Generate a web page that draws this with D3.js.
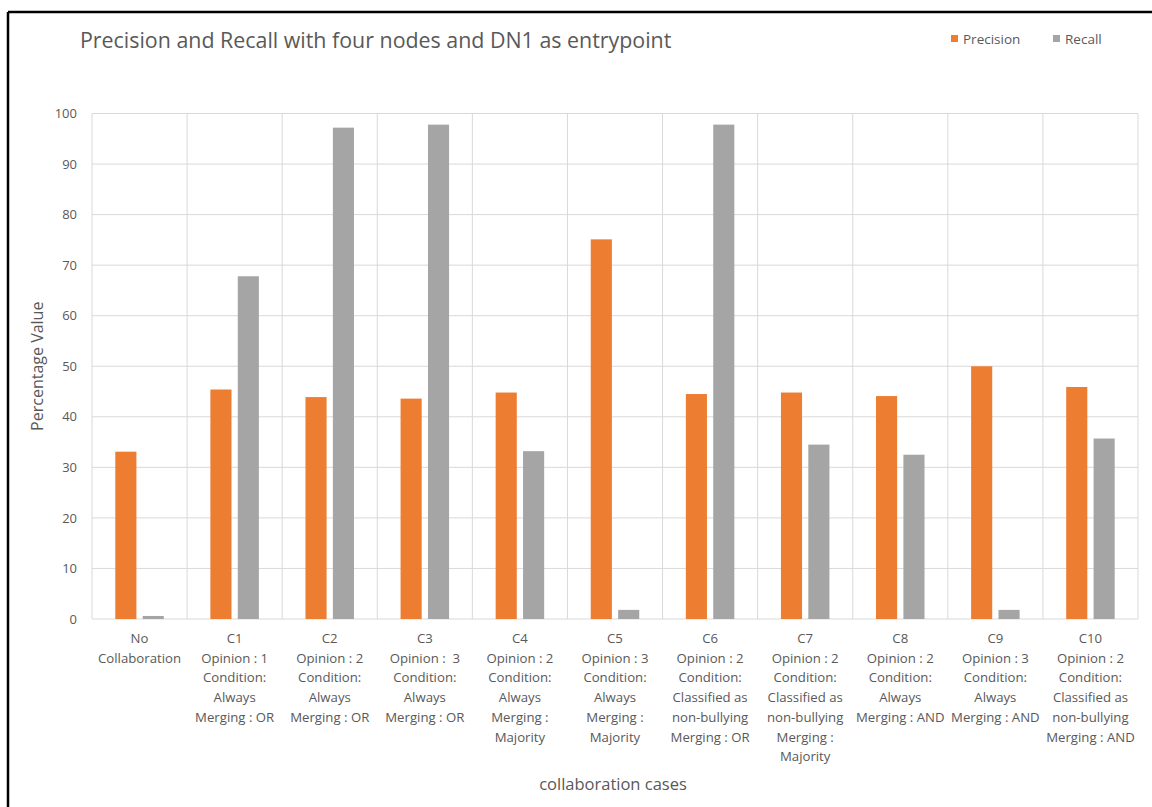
<!DOCTYPE html>
<html><head><meta charset="utf-8">
<script src="https://cdn.jsdelivr.net/npm/d3@7"></script>
<style>body{margin:0;background:#fff;} svg{display:block;} text{white-space:pre;}</style>
</head><body>
<svg id="chart" width="1152" height="807"></svg>
<script>
const categories = ["NoCollab","C1","C2","C3","C4","C5","C6","C7","C8","C9","C10"];
const categoryLabels = [
  ["No","Collaboration"],
  ["C1","Opinion : 1","Condition:","Always","Merging : OR"],
  ["C2","Opinion : 2","Condition:","Always","Merging : OR"],
  ["C3","Opinion :  3","Condition:","Always","Merging : OR"],
  ["C4","Opinion : 2","Condition:","Always","Merging :","Majority"],
  ["C5","Opinion : 3","Condition:","Always","Merging :","Majority"],
  ["C6","Opinion : 2","Condition:","Classified as","non-bullying","Merging : OR"],
  ["C7","Opinion : 2","Condition:","Classified as","non-bullying","Merging :","Majority"],
  ["C8","Opinion : 2","Condition:","Always","Merging : AND"],
  ["C9","Opinion : 3","Condition:","Always","Merging : AND"],
  ["C10","Opinion : 2","Condition:","Classified as","non-bullying","Merging : AND"]
];
const seriesNames = ["Precision","Recall"];
const precision = [33.1, 45.4, 43.9, 43.6, 44.8, 75.1, 44.5, 44.8, 44.1, 50.0, 45.9];
const recall    = [0.6, 67.8, 97.2, 97.8, 33.2, 1.8, 97.8, 34.5, 32.5, 1.8, 35.7];
const yTicks = [0,10,20,30,40,50,60,70,80,90,100];
const colors = ["#ED7D31","#A5A5A5"];

(function(){
const svg = d3.select("#chart");
const textColor = "#595959";
const font = "'Open Sans', 'Noto Sans', sans-serif";

// frame lines (left & top)
svg.append("line").attr("x1",8).attr("x2",8).attr("y1",12).attr("y2",807).attr("stroke","#000").attr("stroke-width",2.5);
svg.append("line").attr("x1",8).attr("x2",1152).attr("y1",12).attr("y2",12).attr("stroke","#000").attr("stroke-width",2.5);

const pL = 92, pR = 1138, pT = 113.5, pB = 619;
const x = d3.scaleBand().domain(categories).range([pL, pR]).padding(0);
const y = d3.scaleLinear().domain([0,100]).range([pB, pT]);

// horizontal gridlines
svg.append("g").selectAll("line").data(yTicks).join("line")
  .attr("x1", pL).attr("x2", pR)
  .attr("y1", d=>y(d)).attr("y2", d=>y(d))
  .attr("stroke","#D9D9D9").attr("stroke-width",1);
// vertical gridlines at category boundaries
const bounds = categories.map(c=>x(c)).concat([pR]);
svg.append("g").selectAll("line").data(bounds).join("line")
  .attr("x1", d=>d).attr("x2", d=>d)
  .attr("y1", pT).attr("y2", pB)
  .attr("stroke","#D9D9D9").attr("stroke-width",1);

// y axis labels
const yAxis = d3.axisLeft(y).tickValues(yTicks).tickSize(0).tickPadding(0);
const ga = svg.append("g").attr("transform",`translate(${pL-15},0)`).call(yAxis);
ga.select(".domain").remove();
ga.selectAll("text").attr("fill",textColor).attr("font-family",font).attr("font-size",13);

// bars
const bw = x.bandwidth();
const barW = bw*0.222;
const offset = bw*0.144;
const series = [precision, recall];
series.forEach((vals, si)=>{
  svg.append("g").selectAll("rect").data(vals).join("rect")
    .attr("x",(d,i)=> x(categories[i]) + bw/2 + (si===0 ? -offset : offset) - barW/2)
    .attr("y", d=>y(d))
    .attr("width", barW)
    .attr("height", d=> y(0)-y(d))
    .attr("fill", colors[si]);
});

// category labels
const lab = svg.append("g");
categoryLabels.forEach((lines,i)=>{
  const t = lab.append("text")
    .attr("x", x(categories[i]) + bw/2)
    .attr("y", 643)
    .attr("text-anchor","middle")
    .attr("fill",textColor).attr("font-family",font).attr("font-size",13.2);
  lines.forEach((l,j)=>{
    t.append("tspan").attr("x", x(categories[i]) + bw/2).attr("dy", j===0?0:19.7).text(l);
  });
});

// axis titles
svg.append("text").attr("transform",`translate(43,${(pT+pB)/2}) rotate(-90)`)
  .attr("text-anchor","middle").attr("fill",textColor).attr("font-family",font).attr("font-size",16)
  .text("Percentage Value");
svg.append("text").attr("x",613).attr("y",790).attr("text-anchor","middle")
  .attr("fill",textColor).attr("font-family",font).attr("font-size",16.5)
  .text("collaboration cases");

// title
svg.append("text").attr("x",80).attr("y",48).attr("fill",textColor)
  .attr("font-family",font).attr("font-size",21.4)
  .text("Precision and Recall with four nodes and DN1 as entrypoint");

// legend
const legendX = [951, 1053];
seriesNames.forEach((n,i)=>{
  svg.append("rect").attr("x",legendX[i]).attr("y",35).attr("width",7).attr("height",7).attr("fill",colors[i]);
  svg.append("text").attr("x",legendX[i]+12).attr("y",44).attr("fill",textColor)
    .attr("font-family",font).attr("font-size",13.5).text(n);
});
})();
</script>
</body></html>
